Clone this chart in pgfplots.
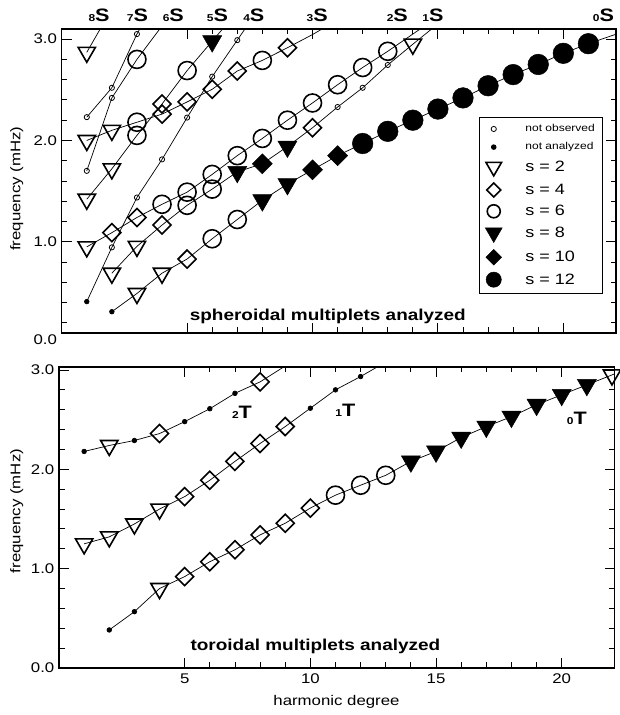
\documentclass[border=0pt]{standalone}
\usepackage{fontspec}
\setmainfont{Liberation Sans}[FakeStretch=1.2]
\usepackage{pgfplots}
\pgfplotsset{compat=1.18}

% downward triangles and square diamonds
\pgfdeclareplotmark{dtri}{%
  \pgfpathmoveto{\pgfqpointpolar{-90}{\pgfplotmarksize}}%
  \pgfpathlineto{\pgfqpointpolar{30}{\pgfplotmarksize}}%
  \pgfpathlineto{\pgfqpointpolar{150}{\pgfplotmarksize}}%
  \pgfpathclose\pgfusepathqstroke}
\pgfdeclareplotmark{dtri*}{%
  \pgfpathmoveto{\pgfqpointpolar{-90}{\pgfplotmarksize}}%
  \pgfpathlineto{\pgfqpointpolar{30}{\pgfplotmarksize}}%
  \pgfpathlineto{\pgfqpointpolar{150}{\pgfplotmarksize}}%
  \pgfpathclose\pgfusepathqfillstroke}
\pgfdeclareplotmark{dia}{%
  \pgfpathmoveto{\pgfqpoint{0pt}{\pgfplotmarksize}}%
  \pgfpathlineto{\pgfqpoint{\pgfplotmarksize}{0pt}}%
  \pgfpathlineto{\pgfqpoint{0pt}{-\pgfplotmarksize}}%
  \pgfpathlineto{\pgfqpoint{-\pgfplotmarksize}{0pt}}%
  \pgfpathclose\pgfusepathqstroke}
\pgfdeclareplotmark{dia*}{%
  \pgfpathmoveto{\pgfqpoint{0pt}{\pgfplotmarksize}}%
  \pgfpathlineto{\pgfqpoint{\pgfplotmarksize}{0pt}}%
  \pgfpathlineto{\pgfqpoint{0pt}{-\pgfplotmarksize}}%
  \pgfpathlineto{\pgfqpoint{-\pgfplotmarksize}{0pt}}%
  \pgfpathclose\pgfusepathqfillstroke}

\newcommand{\branch}[2]{{\bfseries\fontsize{10}{10}\selectfont #1}{\bfseries\fontsize{18}{18}\selectfont #2}}

\pgfplotsset{
  mode/.style={black, line width=0.7pt, forget plot,
    scatter, scatter src=explicit symbolic,
    scatter/classes={
      no={mark=o, mark size=2.6pt, line width=0.8pt, draw=black},
      na={mark=*, mark size=2.3pt, draw=black, fill=black},
      a={mark=dtri, mark size=10pt, line width=1.6pt, draw=black},
      b={mark=dia, mark size=9pt, line width=1.6pt, draw=black},
      c={mark=o, mark size=9pt, line width=1.6pt, draw=black},
      d={mark=dtri*, mark size=11pt, line width=0.5pt, draw=black, fill=black},
      e={mark=dia*, mark size=10pt, line width=0.5pt, draw=black, fill=black},
      f={mark=*, mark size=10.3pt, line width=0.5pt, draw=black, fill=black},
      x={mark=*, mark size=0pt, draw=none, fill=none}}},
  % legend symbol drawn alone, without a line
  legsym/.style={legend image code/.code={%
    \draw[##1] plot coordinates {(13pt,0pt)};}},
  panel/.style={
    scale only axis, clip mode=individual,
    xmin=0, xmax=22.1,
    xtick={5,10,15,20}, minor x tick num=4,
    ytick={0,1,2,3}, minor y tick num=4,
    major tick length=10pt, minor tick length=5.5pt,
    every tick/.style={black, line width=0.9pt},
    axis line style={line width=1.2pt},
    /pgf/number format/assume math mode=true,
    tick label style={font=\fontsize{14}{14}\selectfont},
    yticklabel style={anchor=east, inner sep=0pt, xshift=-4.5pt,
      /pgf/number format/fixed, /pgf/number format/fixed zerofill,
      /pgf/number format/precision=1},
    xticklabel style={anchor=north, inner sep=0pt, yshift=-6pt},
  },
}

\begin{document}
\begin{tikzpicture}
\useasboundingbox (0,0) rectangle (619pt,715pt);

% ---------------- spheroidal modes ----------------
\begin{axis}[panel,
  at={(61.7pt,382pt)}, anchor=south west,
  width=554.3pt, height=304pt,
  ymin=0.1, ymax=3.1,
  xticklabels={},
  ylabel={frequency (mHz)},
  every axis y label/.style={at={(axis description cs:-0.0812,0.475)}, rotate=90, anchor=center, font=\fontsize{14}{14}\selectfont},
  legend style={at={(axis cs:16.63,2.232)}, anchor=north west, draw=black,
    line width=0.9pt, inner xsep=6pt, inner ysep=6pt, row sep=7pt, column sep=22pt,
    nodes={inner sep=1.2pt}},
  legend cell align=left,
]
% 0S
\addplot[mode] table[meta=m] {
l f m
2 0.31 na
3 0.49 a
4 0.69 a
5 0.83 b
6 1.03 c
7 1.22 c
8 1.41 d
9 1.57 d
10 1.71 e
11 1.85 e
12 1.97 f
13 2.09 f
14 2.20 f
15 2.31 f
16 2.42 f
17 2.54 f
18 2.65 f
19 2.75 f
20 2.86 f
21 2.955 f
22 3.04 x
23 3.12 x
};
% 1S
\addplot[mode] table[meta=m] {
l f m
2 0.69 a
3 0.955 a
4 1.165 b
5 1.36 c
6 1.52 c
7 1.69 d
8 1.77 e
9 1.94 d
10 2.125 b
11 2.33 no
12 2.52 no
13 2.745 no
14 2.95 a
15 3.15 x
};
% 2S
\addplot[mode] table[meta=m] {
l f m
1 0.95 a
2 1.09 b
3 1.24 b
4 1.37 c
5 1.49 c
6 1.665 c
7 1.85 c
8 2.02 c
9 2.20 c
10 2.37 c
11 2.55 c
12 2.72 c
13 2.88 c
14 3.05 x
15 3.22 x
};
% 3S
\addplot[mode] table[meta=m] {
l f m
1 2.00 a
2 2.10 a
3 2.18 c
4 2.26 b
5 2.38 b
6 2.505 b
7 2.685 b
8 2.79 c
9 2.915 b
10 3.045 x
11 3.19 x
};
% 4S
\addplot[mode] table[meta=m] {
l f m
1 0.41 na
2 0.945 no
3 1.437 no
4 1.813 no
5 2.226 no
6 2.63 no
7 2.99 no
8 3.35 x
};
% 5S
\addplot[mode] table[meta=m] {
l f m
1 1.42 a
2 1.72 a
3 2.05 c
4 2.36 b
5 2.69 c
6 2.98 d
7 3.27 x
};
% 6S
\addplot[mode] table[meta=m] {
l f m
1 1.70 no
2 2.42 no
3 2.80 c
4 3.13 x
};
% 7S
\addplot[mode] table[meta=m] {
l f m
1 2.23 no
2 2.52 no
3 3.05 no
4 3.50 x
};
% 8S
\addplot[mode] table[meta=m] {
l f m
1 2.87 a
2 3.30 x
};
% 1S1 (Slichter)
\addplot[mode] table[meta=m] {
l f m
1 0.04 no
};

\addlegendimage{legsym, black, mark=o, mark size=2.6pt, line width=0.8pt}
\addlegendentry{\fontsize{10}{11}\selectfont not observed}
\addlegendimage{legsym, black, mark=*, mark size=2.3pt}
\addlegendentry{\fontsize{10}{11}\selectfont not analyzed}
\addlegendimage{legsym, black, mark=dtri, mark size=9pt, line width=1.6pt}
\addlegendentry{\fontsize{15}{16}\selectfont s = 2}
\addlegendimage{legsym, black, mark=dia, mark size=7pt, line width=1.6pt}
\addlegendentry{\fontsize{15}{16}\selectfont s = 4}
\addlegendimage{legsym, black, mark=o, mark size=6.5pt, line width=1.6pt}
\addlegendentry{\fontsize{15}{16}\selectfont s = 6}
\addlegendimage{legsym, black, mark=dtri*, mark size=9.8pt, line width=0.5pt}
\addlegendentry{\fontsize{15}{16}\selectfont s = 8}
\addlegendimage{legsym, black, mark=dia*, mark size=7.8pt, line width=0.5pt}
\addlegendentry{\fontsize{15}{16}\selectfont s = 10}
\addlegendimage{legsym, black, mark=*, mark size=7.6pt, line width=0.5pt}
\addlegendentry{\fontsize{15}{16}\selectfont s = 12}

\node[anchor=east, inner sep=0pt, xshift=-4.5pt, font=\fontsize{14}{14}\selectfont] at (axis cs:0,0.03) {0.0};
\node[anchor=base, font=\bfseries\fontsize{15.8}{16}\selectfont] at (axis cs:10.61,0.228) {spheroidal multiplets analyzed};

\node[anchor=base] at (axis cs:1.49,3.172) {\branch{8}{S}};
\node[anchor=base] at (axis cs:3.02,3.172) {\branch{7}{S}};
\node[anchor=base] at (axis cs:4.45,3.172) {\branch{6}{S}};
\node[anchor=base] at (axis cs:6.21,3.172) {\branch{5}{S}};
\node[anchor=base] at (axis cs:7.66,3.172) {\branch{4}{S}};
\node[anchor=base] at (axis cs:10.19,3.172) {\branch{3}{S}};
\node[anchor=base] at (axis cs:13.38,3.172) {\branch{2}{S}};
\node[anchor=base] at (axis cs:14.80,3.172) {\branch{1}{S}};
\node[anchor=base] at (axis cs:21.60,3.172) {\branch{0}{S}};
\end{axis}

% ---------------- toroidal modes ----------------
\begin{axis}[panel,
  at={(59pt,47pt)}, anchor=south west,
  width=555.5pt, height=301pt,
  ymin=0, ymax=3.03,
  xlabel={harmonic degree},
  ylabel={frequency (mHz)},
  every axis x label/.style={at={(axis description cs:0.4995,-0.112)}, anchor=center, font=\fontsize{14}{14}\selectfont},
  every axis y label/.style={at={(axis description cs:-0.0761,0.5216)}, rotate=90, anchor=center, font=\fontsize{14}{14}\selectfont},
]
% 2T
\addplot[mode] table[meta=m] {
l f m
1 2.18 na
2 2.24 a
3 2.29 na
4 2.36 b
5 2.48 na
6 2.61 na
7 2.765 na
8 2.88 b
9 3.04 x
10 3.20 x
};
% 1T
\addplot[mode] table[meta=m] {
l f m
1 1.25 a
2 1.32 a
3 1.45 a
4 1.60 a
5 1.725 b
6 1.89 b
7 2.08 b
8 2.26 b
9 2.43 b
10 2.615 na
11 2.80 na
12 2.934 na
13 3.08 x
};
% 0T
\addplot[mode] table[meta=m] {
l f m
2 0.383 na
3 0.567 na
4 0.80 a
5 0.92 b
6 1.07 b
7 1.19 b
8 1.34 b
9 1.457 b
10 1.61 b
11 1.74 c
12 1.84 c
13 1.94 c
14 2.08 d
15 2.18 d
16 2.32 d
17 2.43 d
18 2.53 d
19 2.65 d
20 2.75 d
21 2.85 d
22 2.95 a
23 3.06 x
};

\node[anchor=base, font=\bfseries\fontsize{15.8}{16}\selectfont] at (axis cs:10.2,0.181) {toroidal multiplets analyzed};
\node[anchor=base] at (axis cs:7.28,2.51) {\branch{2}{T}};
\node[anchor=base] at (axis cs:11.39,2.53) {\branch{1}{T}};
\node[anchor=base] at (axis cs:20.60,2.45) {\branch{0}{T}};
\end{axis}
\end{tikzpicture}
\end{document}
